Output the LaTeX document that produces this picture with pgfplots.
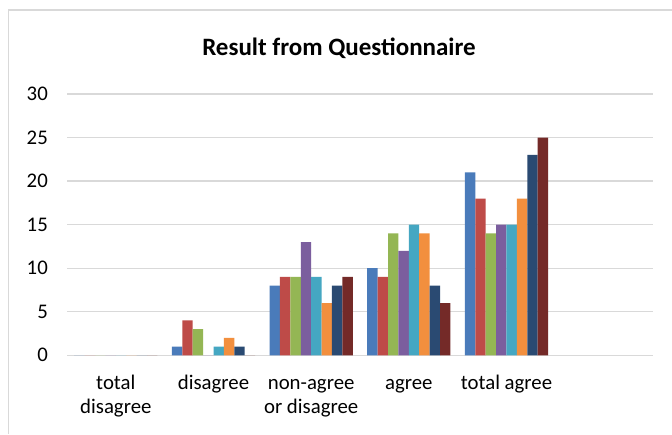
\documentclass[border=0pt]{standalone}
\usepackage{pgfplots}
\pgfplotsset{compat=1.18}
\usepackage{fontspec}
\setmainfont{Carlito}
\definecolor{c1}{HTML}{4A7BBA}
\definecolor{c2}{HTML}{BE4B48}
\definecolor{c3}{HTML}{94B654}
\definecolor{c4}{HTML}{7B5E9E}
\definecolor{c5}{HTML}{45A7C2}
\definecolor{c6}{HTML}{F28F3E}
\definecolor{c7}{HTML}{2A4A72}
\definecolor{c8}{HTML}{742A28}
\definecolor{gridc}{HTML}{D9D9D9}
\begin{document}
\begin{tikzpicture}[x=1pt,y=1pt]
\useasboundingbox (0,0) rectangle (672,434);
\fill[white] (0,0) rectangle (672,434);
\draw[gridc, line width=1.5pt] (8.5,0) -- (8.5,424) -- (672,424);
\node[anchor=base, font=\fontsize{25}{30}\selectfont\bfseries] at (339,378) {Result from Questionnaire};
\begin{axis}[
  at={(67pt,78.7pt)}, anchor=south west,
  scale only axis, width=586pt, height=261.3pt,
  ybar=0pt, bar width=10.4pt,
  xmin=-0.5, xmax=5.5, ymin=0, ymax=30,
  xtick={0,1,2,3,4},
  xticklabels={{\strut total\\disagree},{\strut disagree},{\strut non-agree\\or disagree},{\strut agree},{\strut total agree}},
  ytick={0,5,10,15,20,25,30},
  major tick length=0pt,
  axis line style={draw=none},
  ymajorgrids, grid style={gridc, line width=1.3pt},
  /pgf/number format/assume math mode=true,
  tick label style={font=\fontsize{20.8}{24}\selectfont},
  xticklabel style={align=center, anchor=north, inner sep=0pt, yshift=-17.5pt},
  yticklabel style={anchor=east, inner sep=0pt, xshift=-19pt},
  every axis plot/.append style={draw=none},
]
\addplot[fill=c1] coordinates {(0,0) (1,1) (2,8) (3,10) (4,21)};
\addplot[fill=c2] coordinates {(0,0) (1,4) (2,9) (3,9) (4,18)};
\addplot[fill=c3] coordinates {(0,0) (1,3) (2,9) (3,14) (4,14)};
\addplot[fill=c4] coordinates {(0,0) (1,0) (2,13) (3,12) (4,15)};
\addplot[fill=c5] coordinates {(0,0) (1,1) (2,9) (3,15) (4,15)};
\addplot[fill=c6] coordinates {(0,0) (1,2) (2,6) (3,14) (4,18)};
\addplot[fill=c7] coordinates {(0,0) (1,1) (2,8) (3,8) (4,23)};
\addplot[fill=c8] coordinates {(0,0) (1,0) (2,9) (3,6) (4,25)};
\end{axis}
\end{tikzpicture}
\end{document}
